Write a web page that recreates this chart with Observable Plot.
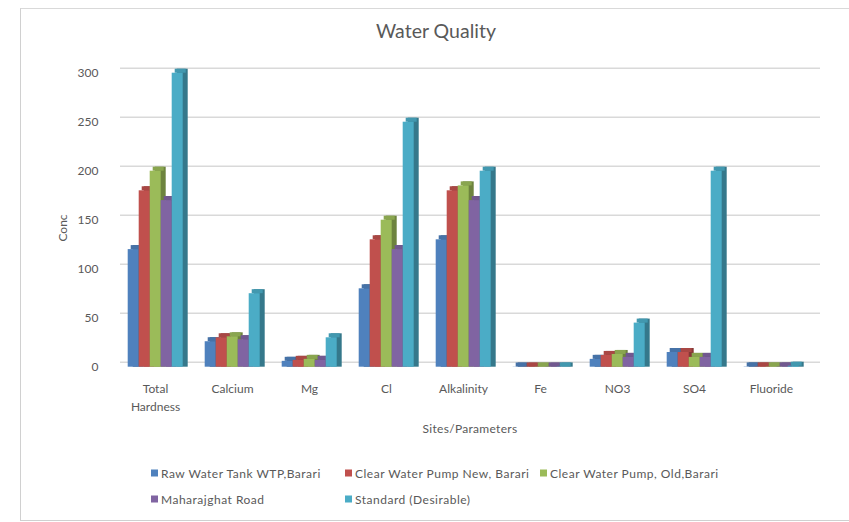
<!DOCTYPE html>
<html>
<head>
<meta charset="utf-8">
<script src="https://cdn.jsdelivr.net/npm/d3@7"></script>
<script src="https://cdn.jsdelivr.net/npm/@observablehq/plot@0.6"></script>
<style>
  html, body { margin: 0; padding: 0; background: #fff; }
  #wrap { position: relative; width: 849px; height: 522px; overflow: hidden; font-family: Lato, "Open Sans", sans-serif; color: #595959; }
  #frame { position: absolute; left: 20px; top: 8px; width: 840px; height: 511px; border-left: 1px solid #d0d0d0; border-top: 1px solid #d9d9d9; border-bottom: 1px solid #d0d0d0; }
  .layer { position: absolute; left: 0; top: 0; }
  .t { position: absolute; white-space: nowrap; }
  #title { left: 0; width: 872px; top: 19px; text-align: center; font-size: 19.5px; }
  #ylab { left: 62px; top: 228px; font-size: 12px; transform: translate(-50%, -50%) rotate(-90deg); }
  #xlab { left: 470px; top: 428px; font-size: 12px; letter-spacing: 0.3px; transform: translate(-50%, -50%); }
  .leg { position: absolute; font-size: 12px; letter-spacing: 0.5px; white-space: nowrap; transform: translateY(-50%); }
  .sw { display: inline-block; width: 7px; height: 7px; margin-right: 3px; vertical-align: middle; position: relative; top: -1px; }
</style>
</head>
<body>
<div id="wrap">
  <div id="frame"></div>
  <div class="layer" id="grid"></div>
  <div class="layer" id="chart"></div>
  <div class="t" id="title">Water Quality</div>
  <div class="t" id="ylab">Conc</div>
  <div class="t" id="xlab">Sites/Parameters</div>
  <div id="legend"></div>
</div>
<script>
const categories = ["Total Hardness", "Calcium", "Mg", "Cl", "Alkalinity", "Fe", "NO3", "SO4", "Fluoride"];
const seriesNames = ["Raw Water Tank WTP,Barari", "Clear Water Pump New, Barari", "Clear Water Pump, Old,Barari", "Maharajghat Road", "Standard (Desirable)"];
const colors = ["#4f81bd", "#c0504d", "#9bbb59", "#8064a2", "#4bacc6"];
const rawWaterTank   = [120, 26, 6, 80, 130, 0.2, 8, 15, 0.3];
const clearPumpNew   = [180, 30, 7, 130, 180, 0.2, 12, 15, 0.3];
const clearPumpOld   = [200, 31, 8, 150, 185, 0.2, 13, 10, 0.3];
const maharajghat    = [170, 28, 7, 120, 170, 0.2, 10, 10, 0.3];
const standard       = [300, 75, 30, 250, 200, 0.3, 45, 200, 1];
const yTicks = [0, 50, 100, 150, 200, 250, 300];

const seriesValues = [rawWaterTank, clearPumpNew, clearPumpOld, maharajghat, standard];
const data = [];
categories.forEach((cat, i) => {
  seriesNames.forEach((s, j) => data.push({cat, series: s, value: seriesValues[j][i]}));
});
const sideColor = d3.scaleOrdinal(seriesNames, colors.map(c => d3.color(c).darker(1.0).formatHex()));
const topColor = d3.scaleOrdinal(seriesNames, colors.map(c => d3.color(c).darker(0.35).formatHex()));

const base = {
  width: 849,
  height: 445,
  marginTop: 72.7,
  marginBottom: 78.3,
  style: {fontFamily: "Lato, 'Open Sans', sans-serif", fontSize: "12px", color: "#595959", background: "transparent"}
};

// background layer: gridlines + value axis
const grid = Plot.plot({
  ...base,
  marginLeft: 113,
  marginRight: 29,
  y: {domain: [0, 300], label: null},
  marks: [
    Plot.ruleY(yTicks, {y: d => d, stroke: "#d9d9d9", strokeWidth: 1.4, dy: -5, insetLeft: 7}),
    Plot.axisY(yTicks, {tickSize: 0, tickPadding: 15, label: null, fill: "#595959", fontSize: 12})
  ]
});
document.getElementById("grid").appendChild(grid);

// foreground: grouped bars (pseudo-3D: darker side + top face behind each front face)
const chart = Plot.plot({
  ...base,
  marginLeft: 123.3,
  marginRight: 46.5,
  fx: {domain: categories, paddingInner: 0.27, paddingOuter: 0, label: null},
  x: {domain: seriesNames, padding: 0, axis: null},
  y: {domain: [0, 300], label: null, axis: null},
  color: {domain: seriesNames, range: colors},
  marks: [
    Plot.axisFx({anchor: "bottom", tickSize: 0, tickPadding: 13, label: null, lineHeight: 1.5,
      tickFormat: d => d.replace(" ", "\n"), fill: "#595959", fontSize: 12, letterSpacing: 0.3}),
    // side face
    Plot.barY(data, {fx: "cat", x: "series", y: "value", fill: d => sideColor(d.series),
      dx: 5, dy: -4, insetBottom: -4}),
    // top face
    Plot.barY(data, {fx: "cat", x: "series", y1: "value", y2: "value", fill: d => topColor(d.series),
      dx: 3, insetTop: -4}),
    // front face
    Plot.barY(data, {fx: "cat", x: "series", y: "value", fill: "series"})
  ]
});
document.getElementById("chart").appendChild(chart);

// legend
const legendPos = [[151, 473], [345, 473], [540, 473], [151, 499], [345, 499]];
const legend = document.getElementById("legend");
seriesNames.forEach((s, i) => {
  const el = document.createElement("div");
  el.className = "leg";
  el.style.left = legendPos[i][0] + "px";
  el.style.top = legendPos[i][1] + "px";
  el.innerHTML = `<span class="sw" style="background:${colors[i]}"></span>${s}`;
  legend.appendChild(el);
});
</script>
</body>
</html>
